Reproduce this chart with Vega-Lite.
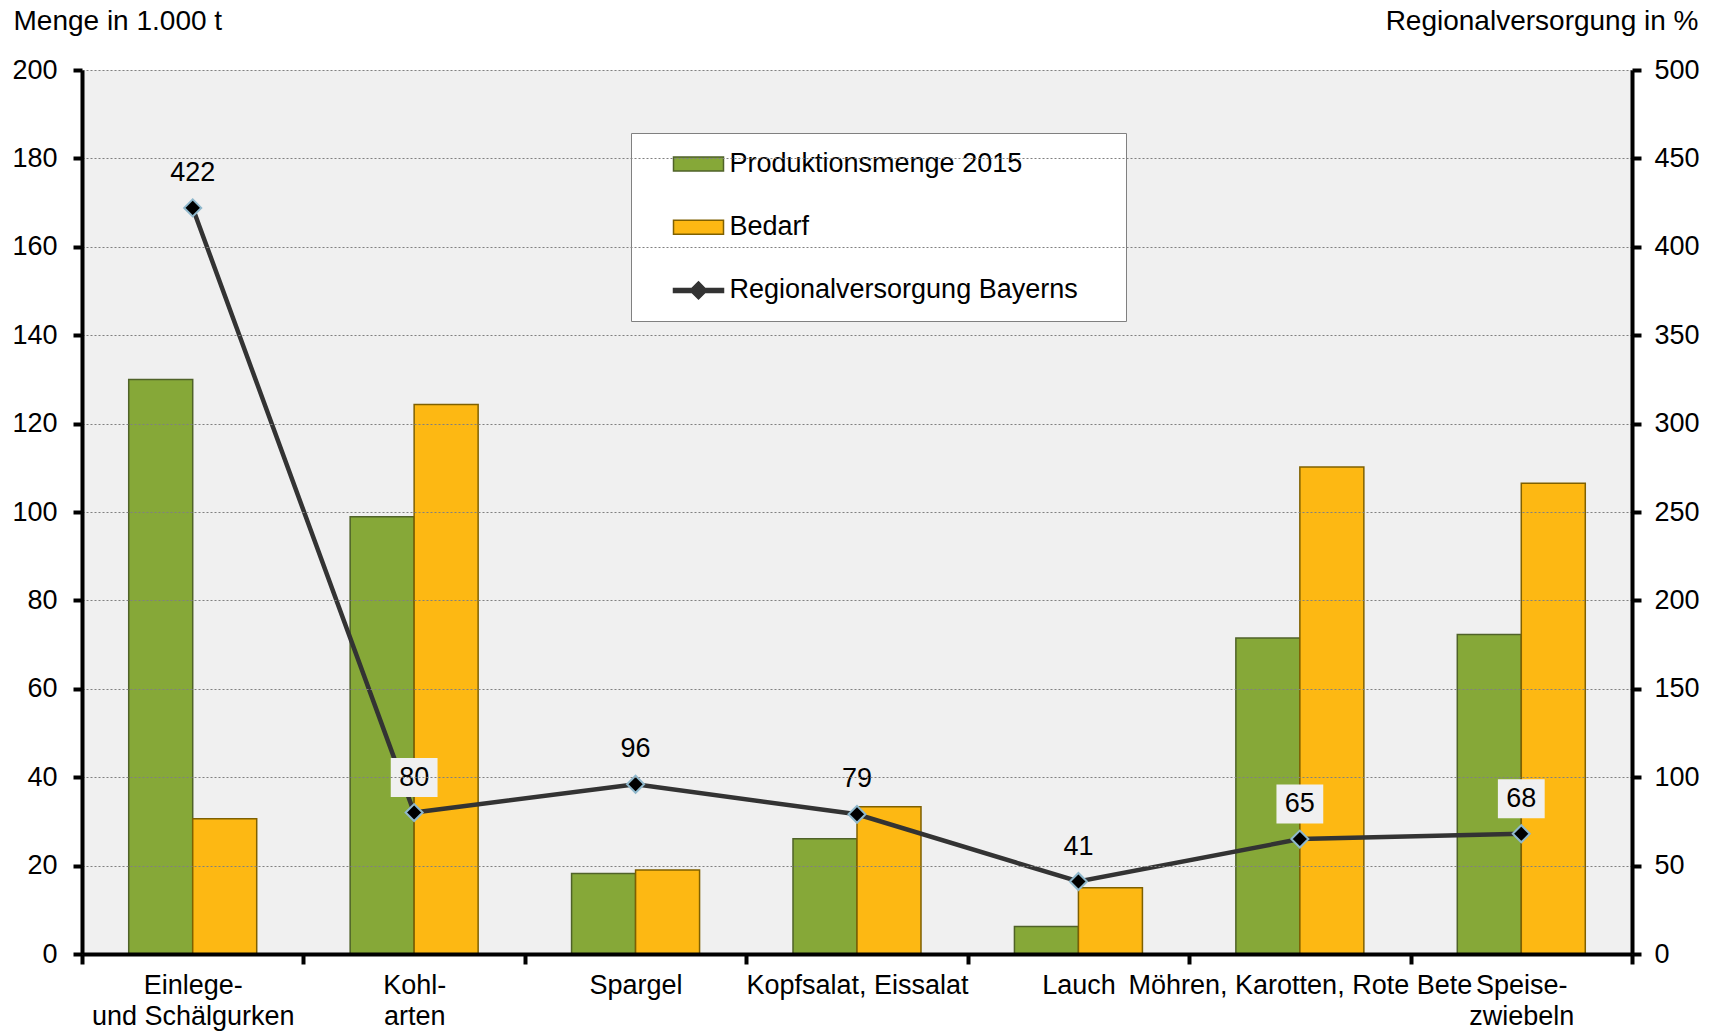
{
  "$schema": "https://vega.github.io/schema/vega-lite/v6.json",
  "width": 1550,
  "height": 884,
  "autosize": "none",
  "padding": {"left": 82, "top": 70, "right": 80, "bottom": 80},
  "background": "white",
  "config": {
    "font": "Liberation Sans",
    "view": {"fill": "#f0f0f0", "stroke": null}
  },
  "datasets": {
    "bars": [
      {"Kategorie": "Einlege-|und Schälgurken", "Serie": "Produktionsmenge 2015", "Menge": 130.0},
      {"Kategorie": "Einlege-|und Schälgurken", "Serie": "Bedarf", "Menge": 30.6},
      {"Kategorie": "Kohl-|arten", "Serie": "Produktionsmenge 2015", "Menge": 98.9},
      {"Kategorie": "Kohl-|arten", "Serie": "Bedarf", "Menge": 124.3},
      {"Kategorie": "Spargel", "Serie": "Produktionsmenge 2015", "Menge": 18.2},
      {"Kategorie": "Spargel", "Serie": "Bedarf", "Menge": 19.0},
      {"Kategorie": "Kopfsalat, Eissalat", "Serie": "Produktionsmenge 2015", "Menge": 26.1},
      {"Kategorie": "Kopfsalat, Eissalat", "Serie": "Bedarf", "Menge": 33.3},
      {"Kategorie": "Lauch", "Serie": "Produktionsmenge 2015", "Menge": 6.2},
      {"Kategorie": "Lauch", "Serie": "Bedarf", "Menge": 15.0},
      {"Kategorie": "Möhren, Karotten, Rote Bete", "Serie": "Produktionsmenge 2015", "Menge": 71.5},
      {"Kategorie": "Möhren, Karotten, Rote Bete", "Serie": "Bedarf", "Menge": 110.2},
      {"Kategorie": "Speise-|zwiebeln", "Serie": "Produktionsmenge 2015", "Menge": 72.3},
      {"Kategorie": "Speise-|zwiebeln", "Serie": "Bedarf", "Menge": 106.5}
    ],
    "line": [
      {"Kategorie": "Einlege-|und Schälgurken", "Regional": 422},
      {"Kategorie": "Kohl-|arten", "Regional": 80},
      {"Kategorie": "Spargel", "Regional": 96},
      {"Kategorie": "Kopfsalat, Eissalat", "Regional": 79},
      {"Kategorie": "Lauch", "Regional": 41},
      {"Kategorie": "Möhren, Karotten, Rote Bete", "Regional": 65},
      {"Kategorie": "Speise-|zwiebeln", "Regional": 68}
    ]
  },
  "encoding": {
    "x": {
      "field": "Kategorie",
      "type": "nominal",
      "scale": {
        "domain": ["Einlege-|und Schälgurken", "Kohl-|arten", "Spargel", "Kopfsalat, Eissalat", "Lauch", "Möhren, Karotten, Rote Bete", "Speise-|zwiebeln"],
        "paddingInner": 0,
        "paddingOuter": 0
      },
      "axis": {
        "title": null,
        "orient": "bottom",
        "zindex": 1,
        "tickBand": "extent",
        "tickSize": 10,
        "tickWidth": 4,
        "tickColor": "black",
        "domainColor": "black",
        "domainWidth": 4,
        "labelAngle": 0,
        "labelPadding": 8,
        "labelFontSize": 27,
        "labelColor": "black",
        "labelLineHeight": 31,
        "labelBaseline": "top",
        "labelLimit": 1000,
        "labelOverlap": false,
        "labelBound": false,
        "labelFlush": false,
        "labelExpr": "split(datum.label, '|')"
      }
    }
  },
  "layer": [
    {
      "data": {"name": "bars"},
      "mark": {"type": "bar", "strokeWidth": 1.5},
      "encoding": {
        "xOffset": {
          "field": "Serie",
          "type": "nominal",
          "scale": {"domain": ["Produktionsmenge 2015", "Bedarf"], "paddingInner": 0, "paddingOuter": 0.73}
        },
        "y": {
          "field": "Menge",
          "type": "quantitative",
          "scale": {"domain": [0, 200], "nice": false},
          "axis": {
            "orient": "left",
            "zindex": 1,
            "values": [0, 20, 40, 60, 80, 100, 120, 140, 160, 180, 200],
            "format": "d",
            "title": "Menge in 1.000 t",
            "titleAngle": 0,
            "titleX": -69,
            "titleY": -41,
            "titleAlign": "left",
            "titleBaseline": "alphabetic",
            "titleFontSize": 28,
            "titleFontWeight": "normal",
            "titleColor": "black",
            "labelFontSize": 27,
            "labelColor": "black",
            "labelPadding": 16,
            "tickSize": 9,
            "tickWidth": 4,
            "tickColor": "black",
            "domainColor": "black",
            "domainWidth": 4,
            "grid": true,
            "gridColor": "#808080",
            "gridDash": [2, 2],
            "gridWidth": 1
          }
        },
        "color": {
          "field": "Serie",
          "type": "nominal",
          "scale": {
            "domain": ["Produktionsmenge 2015", "Bedarf", "Regionalversorgung Bayerns"],
            "range": ["#86A838", "#FDB813", "#333333"]
          },
          "legend": {
            "orient": "none",
            "legendX": 549,
            "legendY": 63,
            "title": null,
            "fillColor": "white",
            "strokeColor": "#808080",
            "padding": 17.5,
            "rowPadding": 35.2,
            "symbolSize": 400,
            "symbolStrokeWidth": 1.5,
            "symbolOffset": 36.5,
            "labelOffset": 17.5,
            "labelFontSize": 27,
            "labelColor": "black",
            "labelLimit": 1000,
            "labelExpr": "datum.label + '\u00a0\u00a0\u00a0\u00a0\u200b'"
          }
        },
        "stroke": {
          "field": "Serie",
          "type": "nominal",
          "scale": {
            "domain": ["Produktionsmenge 2015", "Bedarf", "Regionalversorgung Bayerns"],
            "range": ["#4F6228", "#7F6000", "#333333"]
          }
        }
      }
    },
    {
      "data": {"name": "line"},
      "transform": [{"filter": "datum.Regional > 100000"}],
      "mark": {"type": "point", "filled": true, "opacity": 1},
      "encoding": {
        "color": {"datum": "Regionalversorgung Bayerns", "type": "nominal"},
        "shape": {
          "datum": "Regionalversorgung Bayerns",
          "type": "nominal",
          "scale": {
            "domain": ["Produktionsmenge 2015", "Bedarf", "Regionalversorgung Bayerns"],
            "range": ["M-2.5,-0.7H2.5V0.7H-2.5Z", "M-2.5,-0.7H2.5V0.7H-2.5Z", "M-2.5,-0.2H2.5V0.2H-2.5Z M-0.85,0L0,-0.85L0.85,0L0,0.85Z"]
          }
        }
      }
    },
    {
      "data": {"name": "line"},
      "encoding": {
        "y": {
          "field": "Regional",
          "type": "quantitative",
          "scale": {"domain": [0, 500], "nice": false},
          "axis": {
            "orient": "right",
            "zindex": 1,
            "values": [0, 50, 100, 150, 200, 250, 300, 350, 400, 450, 500],
            "format": "d",
            "title": "Regionalversorgung in %",
            "titleAngle": 0,
            "titleX": 66,
            "titleY": -41,
            "titleAlign": "right",
            "titleBaseline": "alphabetic",
            "titleFontSize": 28,
            "titleFontWeight": "normal",
            "titleColor": "black",
            "labelFontSize": 27,
            "labelColor": "black",
            "labelPadding": 13,
            "tickSize": 9,
            "tickWidth": 4,
            "tickColor": "black",
            "domainColor": "black",
            "domainWidth": 4,
            "grid": false
          }
        }
      },
      "layer": [
        {"mark": {"type": "line", "color": "#333333", "strokeWidth": 4.5}},
        {"mark": {"type": "point", "shape": "diamond", "filled": true, "fill": "black", "stroke": "#8FB8CC", "strokeWidth": 2, "size": 289, "opacity": 1}},
        {
          "transform": [{"filter": "datum.Regional >= 100"}],
          "mark": {"type": "point", "shape": "M-1.56,-1H1.56V1H-1.56Z", "filled": true, "fill": "#f0f0f0", "strokeWidth": 0, "size": 1521, "opacity": 1, "yOffset": -35}
        },
        {
          "transform": [{"filter": "datum.Regional < 100"}],
          "mark": {"type": "point", "shape": "M-1.2,-1H1.2V1H-1.2Z", "filled": true, "fill": "#f0f0f0", "strokeWidth": 0, "size": 1521, "opacity": 1, "yOffset": -35}
        },
        {
          "mark": {"type": "text", "fontSize": 27, "baseline": "middle", "yOffset": -35, "color": "black"},
          "encoding": {"text": {"field": "Regional", "type": "quantitative", "format": "d"}}
        }
      ]
    }
  ],
  "resolve": {"scale": {"y": "independent"}}
}
